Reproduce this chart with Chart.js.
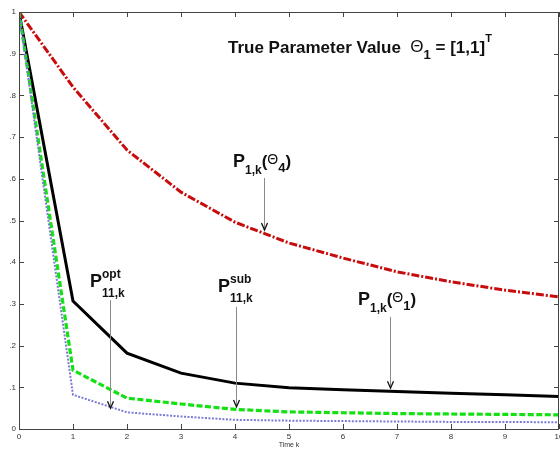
<!DOCTYPE html>
<html>
<head>
<meta charset="utf-8">
<script src="https://cdn.jsdelivr.net/npm/chart.js@4.4.1/dist/chart.umd.min.js"></script>
<style>
  html, body { margin: 0; padding: 0; background: #fff; overflow: hidden; }
  #wrap { width: 560px; height: 449px; }
</style>
</head>
<body>
<div id="wrap"><canvas id="chart" width="560" height="449"></canvas></div>
<script>
// data
const timeK = [0, 1, 2, 3, 4, 5, 6, 7, 8, 9, 10];
const xTicks = [0, 1, 2, 3, 4, 5, 6, 7, 8, 9, 10];
const yTicks = [0, 0.1, 0.2, 0.3, 0.4, 0.5, 0.6, 0.7, 0.8, 0.9, 1];

const pTheta4 = [1, 0.820, 0.669, 0.568, 0.496, 0.446, 0.410, 0.377, 0.353, 0.333, 0.317];
const pTheta1 = [1, 0.307, 0.182, 0.134, 0.110, 0.099, 0.094, 0.090, 0.086, 0.082, 0.078];
const pSub    = [1, 0.141, 0.074, 0.060, 0.047, 0.041, 0.039, 0.037, 0.036, 0.035, 0.034];
const pOpt    = [1, 0.082, 0.040, 0.030, 0.022, 0.020, 0.019, 0.018, 0.017, 0.017, 0.016];

const toPts = arr => timeK.map((k, i) => ({ x: k, y: arr[i] }));

// text labels: each part is [text, size, bold, dy, mode]
const FONT = '"Liberation Sans", Arial, sans-serif';
const labels = [
  { x: 3.87, y: 0.902, parts: [
    ['True Parameter Value  ', 17, true, 0], ['Θ', 17, false, -1], ['1', 13, true, 6],
    [' = [1,1]', 17, true, 0], ['T', 11, true, -11]
  ] },
  { x: 3.963, y: 0.628, parts: [
    ['P', 18, true, 0], ['1,k', 12, true, 7], ['(', 17, true, 0], ['Θ', 14, false, -3],
    ['4', 13, true, 5], [')', 17, true, 0]
  ] },
  { x: 6.278, y: 0.297, parts: [
    ['P', 18, true, 0], ['1,k', 12, true, 7], ['(', 17, true, 0], ['Θ', 14, false, -3],
    ['1', 13, true, 5], [')', 17, true, 0]
  ] },
  { x: 1.315, y: 0.341, parts: [
    ['P', 18, true, 0], ['opt', 12, true, -9], ['11,k', 12, true, 10, 'stack']
  ] },
  { x: 3.685, y: 0.329, parts: [
    ['P', 18, true, 0], ['sub', 12, true, -9], ['11,k', 12, true, 10, 'stack']
  ] }
];
const arrows = [
  { x: 4.537, from: 0.602, to: 0.477 },
  { x: 6.870, from: 0.269, to: 0.098 },
  { x: 1.685, from: 0.309, to: 0.050 },
  { x: 4.019, from: 0.293, to: 0.053 }
];

const boxTicks = {
  id: 'boxTicks',
  afterDraw(chart) {
    const { ctx, chartArea: a, scales: { x, y } } = chart;
    ctx.save();
    ctx.strokeStyle = '#444';
    ctx.lineWidth = 1;
    ctx.strokeRect(a.left + 0.5, a.top + 0.5, a.right - a.left - 1, a.bottom - a.top);
    ctx.beginPath();
    xTicks.forEach(v => {
      const px = Math.round(x.getPixelForValue(v)) + 0.5;
      ctx.moveTo(px, a.bottom); ctx.lineTo(px, a.bottom - 5);
      ctx.moveTo(px, a.top); ctx.lineTo(px, a.top + 5);
    });
    yTicks.forEach(v => {
      const py = Math.round(y.getPixelForValue(v)) + 0.5;
      ctx.moveTo(a.left, py); ctx.lineTo(a.left + 5, py);
      ctx.moveTo(a.right, py); ctx.lineTo(a.right - 5, py);
    });
    ctx.stroke();
    ctx.restore();
  }
};

const notes = {
  id: 'notes',
  afterDatasetsDraw(chart) {
    const { ctx, scales: { x, y } } = chart;
    ctx.save();
    // arrows
    arrows.forEach(ar => {
      const px = Math.round(x.getPixelForValue(ar.x)) + 0.5;
      const y1 = y.getPixelForValue(ar.from), y2 = y.getPixelForValue(ar.to);
      ctx.strokeStyle = '#8a8a8a';
      ctx.lineWidth = 1;
      ctx.beginPath(); ctx.moveTo(px, y1); ctx.lineTo(px, y2 - 2); ctx.stroke();
      ctx.strokeStyle = '#111';
      ctx.lineWidth = 1.3;
      ctx.beginPath();
      ctx.moveTo(px - 3, y2 - 7); ctx.lineTo(px, y2); ctx.lineTo(px + 3, y2 - 7);
      ctx.stroke();
    });
    // labels
    ctx.fillStyle = '#111';
    ctx.textBaseline = 'alphabetic';
    ctx.textAlign = 'left';
    labels.forEach(l => {
      let cx = x.getPixelForValue(l.x), prevX = cx;
      const by = y.getPixelForValue(l.y);
      l.parts.forEach(([t, size, bold, dy, mode]) => {
        ctx.font = (bold ? 'bold ' : '') + size + 'px ' + FONT;
        const start = mode === 'stack' ? prevX : cx;
        ctx.fillText(t, start, by + dy);
        prevX = start;
        cx = Math.max(cx, start + ctx.measureText(t).width);
      });
    });
    ctx.restore();
  }
};

new Chart(document.getElementById('chart'), {
  type: 'line',
  data: {
    datasets: [
      { label: 'opt', data: toPts(pOpt), borderColor: '#7b7bd6', borderWidth: 2, borderDash: [2, 1.5] },
      { label: 'sub', data: toPts(pSub), borderColor: '#14e014', borderWidth: 3.2, borderDash: [6, 2.5] },
      { label: 'theta1', data: toPts(pTheta1), borderColor: '#000', borderWidth: 3 },
      { label: 'theta4', data: toPts(pTheta4), borderColor: '#c80c0c', borderWidth: 3, borderDash: [8, 2, 2, 2] }
    ]
  },
  options: {
    responsive: false,
    animation: false,
    events: [],
    layout: { padding: { top: 12, right: 1, left: 0, bottom: 0 } },
    elements: { point: { radius: 0 }, line: { tension: 0, borderCapStyle: 'butt' } },
    plugins: { legend: { display: false }, tooltip: { enabled: false } },
    scales: {
      x: {
        type: 'linear', min: 0, max: 10,
        afterBuildTicks: s => { s.ticks = xTicks.map(v => ({ value: v })); },
        afterFit: s => { s.height = 20; s.paddingLeft = 0; s.paddingRight = 0; },
        grid: { display: false, drawTicks: false },
        border: { display: false },
        ticks: { font: { size: 8, family: FONT }, color: '#333', padding: 3, maxRotation: 0, autoSkip: false },
        title: { display: true, text: 'Time k', font: { size: 7, family: FONT }, color: '#333', padding: 0 }
      },
      y: {
        type: 'linear', min: 0, max: 1,
        afterBuildTicks: s => { s.ticks = yTicks.map(v => ({ value: v })); },
        afterFit: s => { s.width = 19; s.paddingTop = 0; s.paddingBottom = 0; },
        grid: { display: false, drawTicks: false },
        border: { display: false },
        ticks: {
          font: { size: 8, family: FONT }, color: '#333', padding: 3, autoSkip: false,
          callback: v => (v === 0 || v === 1) ? String(v) : v.toFixed(1).replace(/^0/, '')
        }
      }
    }
  },
  plugins: [boxTicks, notes]
});
</script>
</body>
</html>
